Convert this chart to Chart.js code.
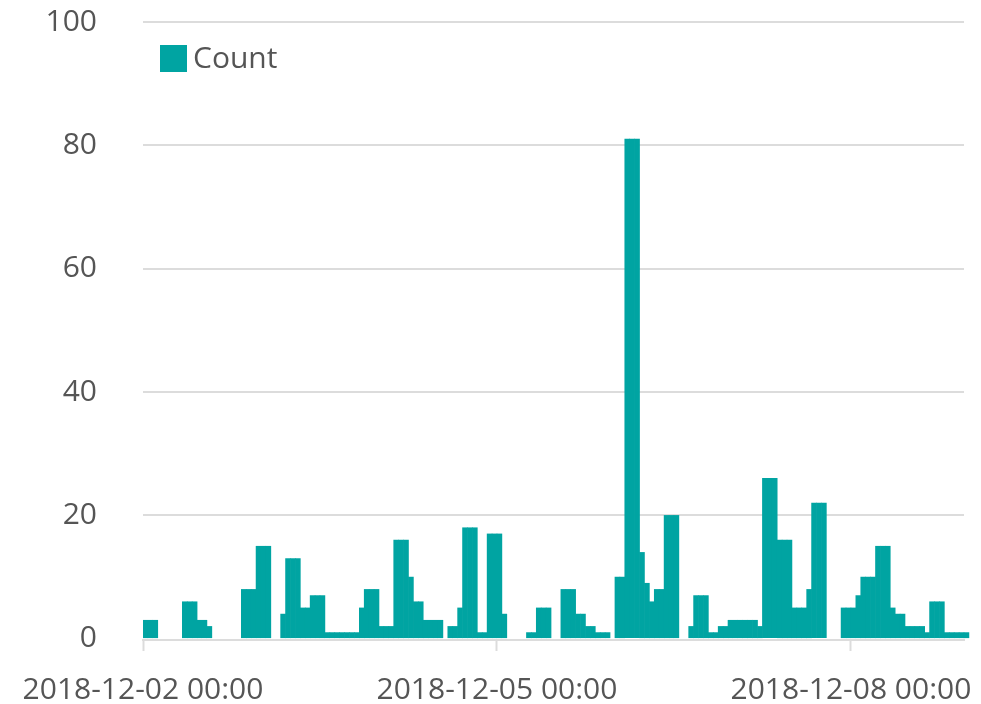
<!DOCTYPE html>
<html>
<head>
<meta charset="utf-8">
<script src="https://cdn.jsdelivr.net/npm/chart.js@4"></script>
<style>
  body { margin: 0; background: #fff; }
</style>
</head>
<body>
<canvas id="myChart" width="981" height="704"></canvas>
<script>
// hourly counts, starting 2018-12-02 00:00
const counts = [
  3, 3, 3, 0, 0, 0, 0, 0, 6, 6, 6, 3, 3, 2, 0, 0, 0, 0, 0, 0, 8, 8, 8, 15,
  15, 15, 0, 0, 4, 13, 13, 13, 5, 5, 7, 7, 7, 1, 1, 1, 1, 1, 1, 1, 5, 8, 8, 8,
  2, 2, 2, 16, 16, 16, 10, 6, 6, 3, 3, 3, 3, 0, 2, 2, 5, 18, 18, 18, 1, 1, 17, 17,
  17, 4, 0, 0, 0, 0, 1, 1, 5, 5, 5, 0, 0, 8, 8, 8, 4, 4, 2, 2, 1, 1, 1, 0,
  10, 10, 81, 81, 81, 14, 9, 6, 8, 8, 20, 20, 20, 0, 0, 2, 7, 7, 7, 1, 1, 2, 2, 3,
  3, 3, 3, 3, 3, 2, 26, 26, 26, 16, 16, 16, 5, 5, 5, 8, 22, 22, 22, 0, 0, 0, 5, 5,
  5, 7, 10, 10, 10, 15, 15, 15, 5, 4, 4, 2, 2, 2, 2, 1, 6, 6, 6, 1, 1, 1, 1, 1,
];
const seriesName = "Count";
const xTickHours = [0, 72, 144];
const xTickLabels = ["2018-12-02 00:00", "2018-12-05 00:00", "2018-12-08 00:00"];
const yTicks = [0, 20, 40, 60, 80, 100];

const barColor = "#00a4a2";
const textColor = "#555555";
const gridColor = "#dcdcdc";
const font = { family: "'Open Sans'", size: 30 };

// legend drawn inside the plot area, top left
const insideLegend = {
  id: "insideLegend",
  afterDraw(chart) {
    const { ctx, chartArea } = chart;
    const x = chartArea.left + 17;
    const y = chartArea.top + 23;
    ctx.save();
    ctx.fillStyle = barColor;
    ctx.fillRect(x, y, 27, 27);
    ctx.fillStyle = textColor;
    ctx.font = "30px 'Open Sans'";
    ctx.textBaseline = "middle";
    ctx.fillText(seriesName, x + 33, y + 14);
    ctx.restore();
  },
};

const ctx = document.getElementById("myChart");

const chart = new Chart(ctx, {
  type: "bar",
  data: {
    datasets: [
      {
        label: seriesName,
        // empty hours get no bar at all
        data: counts.map((c, i) => ({ x: i + 0.5, y: c === 0 ? null : c })),
        backgroundColor: barColor,
        borderWidth: 0,
        barPercentage: 1,
        categoryPercentage: 1,
        clip: { left: 0, top: false, right: false, bottom: 0 },
      },
    ],
  },
  options: {
    responsive: false,
    animation: false,
    devicePixelRatio: 1,
    layout: {
      padding: { left: 44, right: 17, top: 22, bottom: 0 },
    },
    scales: {
      x: {
        type: "linear",
        min: 0,
        max: 167,
        offset: false,
        afterBuildTicks: (axis) => {
          axis.ticks = xTickHours.map((v) => ({ value: v }));
        },
        afterFit: (scale) => {
          scale.height = 64;
          scale.paddingLeft = 0;
          scale.paddingRight = 0;
        },
        ticks: {
          autoSkip: false,
          maxRotation: 0,
          padding: 21,
          color: textColor,
          font: font,
          callback: (v) => xTickLabels[xTickHours.indexOf(v)],
        },
        grid: {
          offset: false,
          drawOnChartArea: false,
          drawTicks: true,
          tickLength: 11,
          tickWidth: 2,
          tickColor: gridColor,
        },
        border: { display: true, color: gridColor, width: 2 },
      },
      y: {
        min: -0.2,
        max: 100,
        afterBuildTicks: (axis) => {
          axis.ticks = yTicks.map((v) => ({ value: v }));
        },
        afterFit: (scale) => {
          scale.width = 99;
        },
        ticks: {
          padding: 0,
          color: textColor,
          font: font,
        },
        grid: {
          drawTicks: true,
          tickLength: 46,
          tickColor: "rgba(0,0,0,0)",
          lineWidth: 2,
          color: (c) => (c.tick && c.tick.value === 0 ? "rgba(0,0,0,0)" : gridColor),
        },
        border: { display: false },
      },
    },
    plugins: {
      legend: { display: false },
      tooltip: { enabled: false },
    },
  },
  plugins: [insideLegend],
});
</script>
</body>
</html>
